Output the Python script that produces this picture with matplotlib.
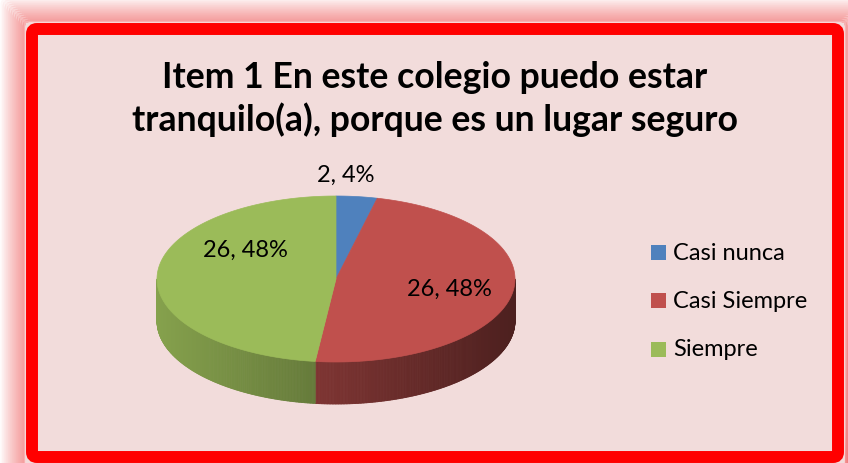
import numpy as np
import matplotlib
matplotlib.use("Agg")
import matplotlib.pyplot as plt
from matplotlib.patches import Polygon, Rectangle, FancyBboxPatch
from matplotlib.collections import PolyCollection

plt.rcParams['font.family'] = ['Lato', 'DejaVu Sans']

title = "Item 1 En este colegio puedo estar\ntranquilo(a), porque es un lugar seguro"
categories = ["Casi nunca", "Casi Siempre", "Siempre"]
counts = [2, 26, 26]
percents = [4, 48, 48]
colors = ["#4F81BD", "#C0504D", "#9BBB59"]

# pie geometry (pixel coords, y down)
cx, cy = 336, 280
rx, ry = 179, 83
depth = 42

fig = plt.figure(figsize=(8.48, 4.64), dpi=100)
ax = fig.add_axes([0, 0, 1, 1])
ax.set_xlim(0, 848)
ax.set_ylim(464, 0)
ax.axis('off')
fig.patch.set_facecolor('white')

# glow around the frame
for i in range(12):
    g = 12 - i
    ax.add_patch(FancyBboxPatch((26 - g * 2.0, 24 - g * 2.0), 818 + g * 4.0, 460 + g * 4.0,
                                boxstyle="round,pad=0,rounding_size=6",
                                fc='none', ec='#f07070', lw=2.2, alpha=0.05 + 0.045 * i, zorder=1))
# pink background + red frame
ax.add_patch(Rectangle((26, 24), 818, 460, fc='#F2DCDB', ec='none', zorder=2))
ax.add_patch(FancyBboxPatch((32, 30), 806, 428, boxstyle="round,pad=0,rounding_size=5",
                            fc='none', ec='#FF0000', lw=8.6, zorder=3))

ax.text(435, 99, title, ha='center', va='center', fontsize=25.7, fontweight='bold',
        linespacing=1.3, zorder=5)

total = sum(counts)
bounds = np.cumsum([0] + counts) / total * 360.0


def pt(phi, dy=0.0):
    r = np.radians(phi)
    return cx + rx * np.sin(r), cy - ry * np.cos(r) + dy


# side walls (front half only, 90..270 deg clockwise from top)
strips, strip_cols = [], []
for k in range(len(counts)):
    a0, a1 = max(bounds[k], 90), min(bounds[k + 1], 270)
    if a1 <= a0:
        continue
    phis = np.linspace(a0, a1, int((a1 - a0) * 2) + 2)
    base = np.array(matplotlib.colors.to_rgb(colors[k]))
    for p0, p1 in zip(phis[:-1], phis[1:]):
        x0, y0 = pt(p0)
        x1, y1 = pt(p1)
        strips.append([(x0, y0), (x1, y1), (x1, y1 + depth), (x0, y0 + depth)])
        xm = (x0 + x1) / 2
        f = 0.86 - 0.46 * (xm - (cx - rx)) / (2 * rx)
        strip_cols.append(tuple(base * f))
ax.add_collection(PolyCollection(strips, facecolors=strip_cols, edgecolors=strip_cols,
                                 linewidths=0.6, zorder=6))

# top faces
for k in range(len(counts)):
    phis = np.linspace(bounds[k], bounds[k + 1], 200)
    xy = [(cx, cy)] + [pt(p) for p in phis]
    ax.add_patch(Polygon(xy, closed=True, fc=colors[k], ec=colors[k], lw=0.5, zorder=7))

# data labels
label_pos = [(346, 175), (245, 250), (449, 289)]
for (lx, ly), c, p in zip(label_pos, counts, percents):
    ax.text(lx, ly, f"{c}, {p}%", ha='center', va='center', fontsize=17, zorder=8)

# legend
for i, (name, col) in enumerate(zip(categories, colors)):
    y = 253 + i * 48.5
    ax.add_patch(Rectangle((651, y - 7.5), 15, 15, fc=col, ec='none', zorder=8))
    ax.text(673, y, name, ha='left', va='center', fontsize=17, zorder=8)

fig.savefig("out.png", dpi=100)
